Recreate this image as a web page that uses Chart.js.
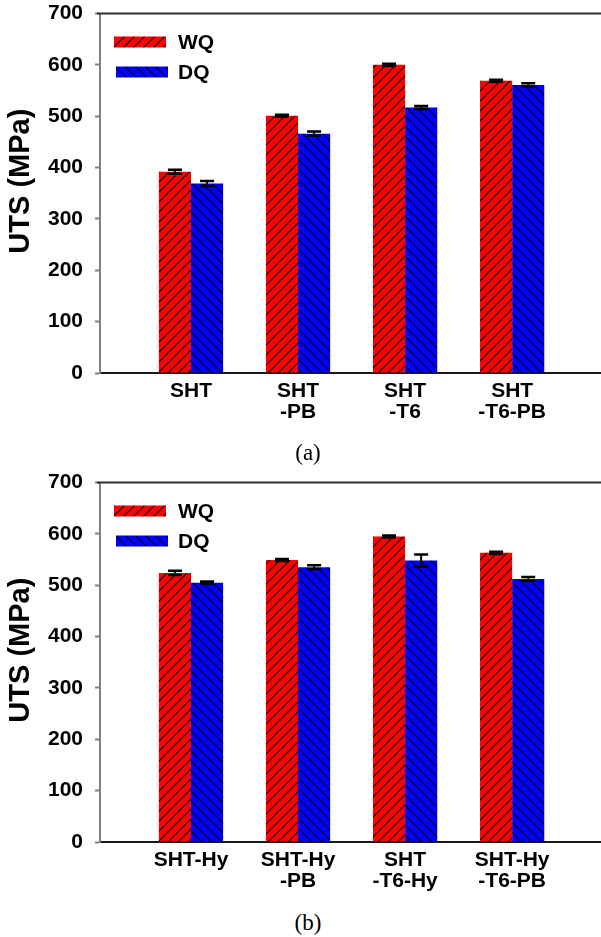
<!DOCTYPE html>
<html>
<head>
<meta charset="utf-8">
<script src="https://cdn.jsdelivr.net/npm/chart.js@4.4.1/dist/chart.umd.min.js"></script>
<style>
body { margin: 0; background: #fff; width: 601px; height: 937px; position: relative; overflow: hidden; }
canvas { position: absolute; left: 0; }
#chartA { top: -9px; }
#chartB { top: 460px; }
.cap { position: absolute; left: 308px; transform: translateX(-50%); font: 23px/1 "Liberation Serif", "Times New Roman", serif; color: #000; }
</style>
</head>
<body>
<canvas id="chartA" width="601" height="449"></canvas>
<canvas id="chartB" width="601" height="449"></canvas>
<div class="cap" style="top:441px">(a)</div>
<div class="cap" style="top:911px">(b)</div>
<script>
var seriesNames = ['WQ', 'DQ'];
var yTicks = [0, 100, 200, 300, 400, 500, 600, 700];

var catsA = [['SHT'], ['SHT', '-PB'], ['SHT', '-T6'], ['SHT', '-T6-PB']];
var wqA = [392, 501, 600, 569];
var wqErrA = [4, 2, 2, 2];
var dqA = [369, 466, 517, 561];
var dqErrA = [5, 4, 3, 3];

var catsB = [['SHT-Hy'], ['SHT-Hy', '-PB'], ['SHT', '-T6-Hy'], ['SHT-Hy', '-T6-PB']];
var wqB = [524, 549, 595, 563];
var wqErrB = [4, 2, 2, 2];
var dqB = [505, 535, 548, 512];
var dqErrB = [2, 4, 12, 4];

Chart.defaults.font.family = '"Liberation Sans", Arial, sans-serif';
Chart.defaults.color = '#000';

// hatch fill: 10px tile, black diagonal
function hatch(color, rising) {
  var c = document.createElement('canvas');
  c.width = 10; c.height = 10;
  var g = c.getContext('2d');
  g.fillStyle = color;
  g.fillRect(0, 0, 10, 10);
  g.strokeStyle = '#000';
  g.lineWidth = 1.1;
  g.beginPath();
  if (rising) {
    g.moveTo(-1, 11); g.lineTo(11, -1);
    g.moveTo(-1, 1); g.lineTo(1, -1);
    g.moveTo(9, 11); g.lineTo(11, 9);
  } else {
    g.moveTo(-1, -1); g.lineTo(11, 11);
    g.moveTo(-1, 9); g.lineTo(1, 11);
    g.moveTo(9, -1); g.lineTo(11, 1);
  }
  g.stroke();
  return g.createPattern(c, 'repeat');
}

var errorBars = {
  id: 'errorBars',
  afterDatasetsDraw: function(chart) {
    var ctx = chart.ctx, y = chart.scales.y;
    chart.data.datasets.forEach(function(ds, i) {
      chart.getDatasetMeta(i).data.forEach(function(bar, j) {
        var v = ds.data[j].y, e = ds.err[j];
        var top = y.getPixelForValue(v + e), bot = y.getPixelForValue(v - e);
        ctx.save();
        ctx.strokeStyle = '#000';
        ctx.lineWidth = 2;
        ctx.beginPath();
        ctx.moveTo(bar.x, top); ctx.lineTo(bar.x, bot);
        ctx.stroke();
        ctx.lineWidth = 2.5;
        ctx.beginPath();
        ctx.moveTo(bar.x - 7, top); ctx.lineTo(bar.x + 7, top);
        ctx.moveTo(bar.x - 7, bot); ctx.lineTo(bar.x + 7, bot);
        ctx.stroke();
        ctx.restore();
      });
    });
  }
};

var frame = {
  id: 'frame',
  afterDraw: function(chart) {
    var ctx = chart.ctx, a = chart.chartArea;
    ctx.save();
    // top border
    ctx.strokeStyle = '#333';
    ctx.lineWidth = 2;
    ctx.beginPath();
    ctx.moveTo(a.left - 3, a.top);
    ctx.lineTo(a.right, a.top);
    ctx.stroke();
    // legend in upper left
    ctx.font = 'bold 21px "Liberation Sans", Arial, sans-serif';
    ctx.textBaseline = 'middle';
    chart.data.datasets.forEach(function(ds, i) {
      ctx.fillStyle = ds.backgroundColor;
      ctx.fillRect(a.left + 14 + i * 2, a.top + 23 + i * 30, 52, 11);
      ctx.fillStyle = '#000';
      ctx.fillText(ds.label, a.left + 78, a.top + 29.5 + i * 30);
    });
    ctx.restore();
  }
};

function makeChart(id, cats, wq, wqErr, dq, dqErr) {
  return new Chart(document.getElementById(id), {
    type: 'bar',
    data: {
      datasets: [
        {
          label: seriesNames[0],
          data: wq.map(function(v, i) { return {x: i, y: v}; }),
          err: wqErr,
          backgroundColor: hatch('#ff0000', true)
        },
        {
          label: seriesNames[1],
          data: dq.map(function(v, i) { return {x: i, y: v}; }),
          err: dqErr,
          backgroundColor: hatch('#0000ff', false)
        }
      ]
    },
    options: {
      responsive: false,
      animation: false,
      categoryPercentage: 0.6,
      barPercentage: 1,
      layout: { padding: 0 },
      plugins: { legend: { display: false }, tooltip: { enabled: false } },
      scales: {
        x: {
          type: 'linear',
          min: -0.85,
          max: 3.83,
          offset: false,
          grid: { display: false, offset: false },
          border: { color: '#1a1a1a', width: 2 },
          afterBuildTicks: function(s) { s.ticks = cats.map(function(c, i) { return {value: i}; }); },
          afterFit: function(s) { s.height = 67; },
          ticks: {
            autoSkip: false,
            maxRotation: 0,
            padding: 0,
            font: { size: 21, weight: 'bold', lineHeight: 1 },
            callback: function(v) { return cats[v]; }
          }
        },
        y: {
          min: 0,
          max: 700,
          afterBuildTicks: function(s) { s.ticks = yTicks.map(function(t) { return {value: t}; }); },
          afterFit: function(s) { s.width = 100; },
          grid: { drawOnChartArea: false, tickLength: 5, tickWidth: 2, tickColor: '#808080' },
          border: { color: '#808080', width: 2 },
          ticks: { padding: 12, font: { size: 21, weight: 'bold', lineHeight: 1 } },
          title: {
            display: true,
            text: '   UTS (MPa)',
            padding: { top: 4, bottom: 0 },
            font: { size: 29, weight: 'bold', lineHeight: 1.2 }
          }
        }
      }
    },
    plugins: [errorBars, frame]
  });
}

makeChart('chartA', catsA, wqA, wqErrA, dqA, dqErrA);
makeChart('chartB', catsB, wqB, wqErrB, dqB, dqErrB);
</script>
</body>
</html>
